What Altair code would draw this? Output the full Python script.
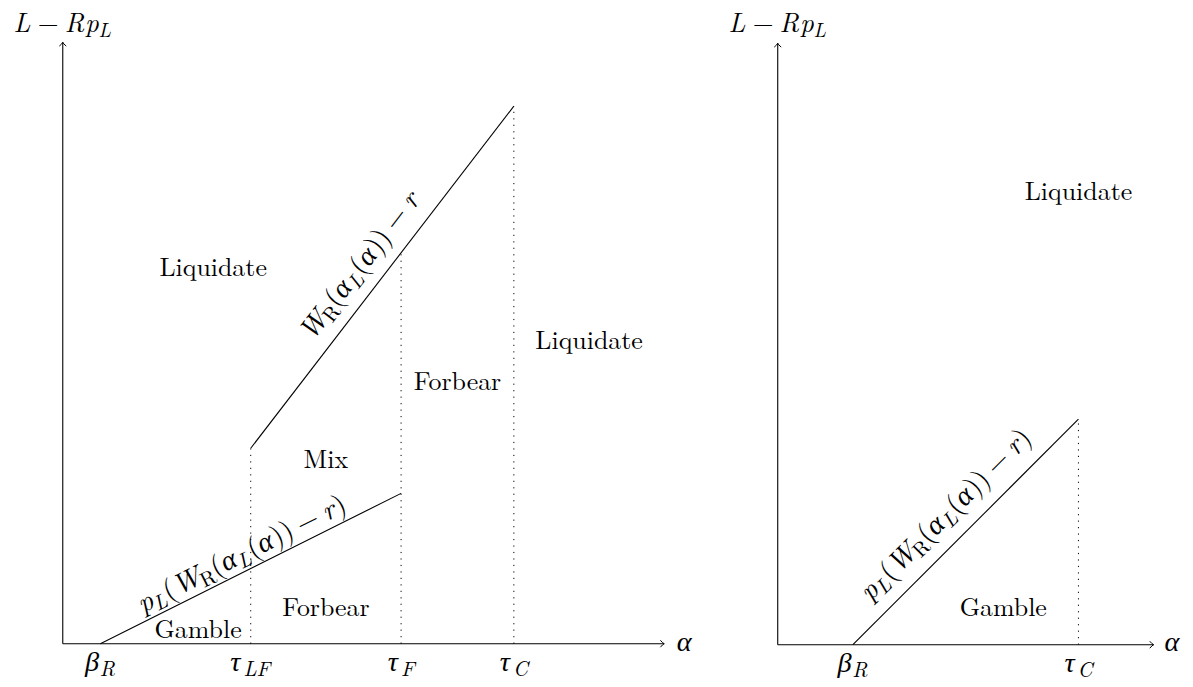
import math
import altair as alt
import pandas as pd

# ---------------- values (data units) ----------------
# left panel
L_TICK_POS = [1, 5, 9, 12]
L_TICK_MAIN = ["β", "τ", "τ", "τ"]
L_TICK_SUB = ["R", "LF", "F", "C"]
L_AXIS_END = [16.0, 16.0]
L_LOWER_X = [1, 9]
L_LOWER_Y = [0, 4.0]
L_UPPER_X = [5, 12]
L_UPPER_Y = [5.2, 14.3]
L_DOT_X = [5, 9, 12]
L_DOT_TOP = [5.2, 10.36, 14.3]
L_REGION_TEXT = ["Liquidate", "Liquidate", "Forbear", "Mix", "Forbear", "Gamble"]
L_REGION_X = [4.0, 14.0, 10.5, 7.0, 7.0, 3.6]
L_REGION_Y = [10.0, 8.05, 6.95, 4.9, 0.95, 0.37]
L_UPPER_LABEL_AT = [7.92, 10.04]
L_LOWER_LABEL_AT = [4.77, 2.36]

# right panel
R_TICK_POS = [2, 8]
R_TICK_MAIN = ["β", "τ"]
R_TICK_SUB = ["R", "C"]
R_AXIS_END = [10.0, 16.0]
R_LINE_X = [2, 8]
R_LINE_Y = [0, 6]
R_DOT_X = [8]
R_DOT_TOP = [6]
R_REGION_TEXT = ["Liquidate", "Gamble"]
R_REGION_X = [8.0, 6.0]
R_REGION_Y = [12.05, 0.98]
R_LABEL_AT = [4.48, 3.44]

# ---------------- styling / layout ----------------
U = 37.75            # px per data unit (same on both axes)
LM = "Latin Modern Roman"
GR = "Liberation Serif"
MS = 28.5            # math size
SS = 21.0            # subscript size
TS = 26.0            # region text size
SUB_DROP = 5.0
OP_GAP = 0.222

# glyph advance widths (em)
W_LMI = {"W": 0.944, "R": 0.759, "L": 0.681, "p": 0.503, "r": 0.451, "F": 0.643,
         "C": 0.715, "LF": 1.324}
W_LMR = {"(": 0.389, ")": 0.389, "−": 0.778, "R": 0.736}
W_GR = {"α": 0.55, "β": 0.52, "τ": 0.46}
FONTS = {"i": (LM, "italic"), "u": (LM, "normal"), "g": (GR, "italic")}
WIDTH = {"i": W_LMI, "u": W_LMR, "g": W_GR}

INNER = [("W", "i", 0), ("R", "u", 1), ("(", "u", 0), ("α", "g", 0), ("L", "i", 1),
         ("(", "u", 0), ("α", "g", 0), (")", "u", 0), (")", "u", 0),
         ("−", "u", 0, "op"), ("r", "i", 0)]
OUTER = [("p", "i", 0), ("L", "i", 1), ("(", "u", 0)] + INNER + [(")", "u", 0)]
YLAB = [("L", "i", 0), ("−", "u", 0, "op"), ("R", "i", 0), ("p", "i", 0), ("L", "i", 1)]


def compose(tokens, ax, ay, angle=0.0, vshift=0.0, k=1.0):
    th = math.radians(angle)
    c, s = math.cos(th), math.sin(th)
    pieces, cur = [], 0.0
    for tok in tokens:
        t, st, sub = tok[0], tok[1], tok[2]
        op = len(tok) > 3
        size = (SS if sub else MS) * k
        w = WIDTH[st][t] * size
        if op:
            cur += OP_GAP * MS * k
        pieces.append((t, st, size, cur, SUB_DROP * k if sub else 0.0))
        cur += w
        if op:
            cur += OP_GAP * MS * k
    total = cur
    rows = []
    for t, st, size, a0, drop in pieces:
        a = a0 - total / 2
        b = vshift + drop
        sx = a * c - b * s
        sy = a * s + b * c
        rows.append(dict(text=t, style=st, size=size, angle=angle,
                         x=ax + sx / U, y=ay - sy / U))
    return rows


def slope_angle(xs, ys):
    return 360 - math.degrees(math.atan2(ys[1] - ys[0], xs[1] - xs[0]))


def panel(width, height, dom_x, dom_y, seg_solid, seg_dot, axis_end,
          regions, math_rows):
    X = lambda f: alt.X(f, type="quantitative", axis=None,
                        scale=alt.Scale(domain=dom_x, nice=False, zero=False))
    Y = lambda f: alt.Y(f, type="quantitative", axis=None,
                        scale=alt.Scale(domain=dom_y, nice=False, zero=False))
    solid = alt.Chart(pd.DataFrame(seg_solid)).mark_rule(
        color="black", strokeWidth=1.1).encode(
        x=X("x"), y=Y("y"), x2=alt.X2("x2"), y2=alt.Y2("y2"))
    dot = alt.Chart(pd.DataFrame(seg_dot)).mark_rule(
        color="black", strokeWidth=1, strokeDash=[1.2, 5.3]).encode(
        x=X("x"), y=Y("y"), x2=alt.X2("x2"), y2=alt.Y2("y2"))
    arr_r = alt.Chart(pd.DataFrame({"x": [axis_end[0]], "y": [0]})).mark_point(
        shape="M -1.1 -1 Q -0.4 -0.15 0 0 Q -0.4 0.15 -1.1 1", filled=False,
        color="black", strokeWidth=1, size=49, opacity=1).encode(x=X("x"), y=Y("y"))
    arr_u = alt.Chart(pd.DataFrame({"x": [0], "y": [axis_end[1]]})).mark_point(
        shape="M -1 1.1 Q -0.15 0.4 0 0 Q 0.15 0.4 1 1.1", filled=False,
        color="black", strokeWidth=1, size=49, opacity=1).encode(x=X("x"), y=Y("y"))
    reg = alt.Chart(pd.DataFrame(regions)).mark_text(
        font=LM, fontSize=TS, align="center", baseline="middle").encode(
        x=X("x"), y=Y("y"), text="text:N")
    mdf = pd.DataFrame(math_rows)
    layers = [solid, dot, arr_r, arr_u, reg]
    for st in ["i", "u", "g"]:
        fam, fs = FONTS[st]
        sub = mdf[mdf["style"] == st]
        if len(sub):
            layers.append(alt.Chart(sub).mark_text(
                font=fam, fontStyle=fs, align="left", baseline="alphabetic").encode(
                x=X("x"), y=Y("y"), text="text:N",
                size=alt.Size("size:Q", scale=None),
                angle=alt.Angle("angle:Q", scale=None)))
    return alt.layer(*layers).properties(width=width, height=height)


TICK_BASE = -0.715
YK = 27.0 / MS   # y-axis label a touch smaller so it stays inside the page

# ---- left panel
LW, LH = 712, 672
l_dom_x = [(8 - 63) / U, (8 + LW - 63) / U]
l_dom_y = [(644 - 8 - LH) / U, (644 - 8) / U]
l_solid = [
    dict(x=0, y=0, x2=L_AXIS_END[0], y2=0),
    dict(x=0, y=0, x2=0, y2=L_AXIS_END[1]),
    dict(x=L_LOWER_X[0], y=L_LOWER_Y[0], x2=L_LOWER_X[1], y2=L_LOWER_Y[1]),
    dict(x=L_UPPER_X[0], y=L_UPPER_Y[0], x2=L_UPPER_X[1], y2=L_UPPER_Y[1]),
]
l_dot = [dict(x=xv, y=0, x2=xv, y2=tv) for xv, tv in zip(L_DOT_X, L_DOT_TOP)]
l_regions = [dict(text=t, x=xv, y=yv) for t, xv, yv in zip(L_REGION_TEXT, L_REGION_X, L_REGION_Y)]
l_math = []
for pos, m, sb in zip(L_TICK_POS, L_TICK_MAIN, L_TICK_SUB):
    l_math += compose([(m, "g", 0), (sb, "i", 1)], pos, TICK_BASE)
l_math += compose(YLAB, 0, 16.275, k=YK)
l_math += compose([("α", "g", 0)], L_AXIS_END[0] + 0.54, -0.19)
l_math += compose(INNER, L_UPPER_LABEL_AT[0], L_UPPER_LABEL_AT[1],
                  slope_angle(L_UPPER_X, L_UPPER_Y), 0.27 * MS)
l_math += compose(OUTER, L_LOWER_LABEL_AT[0], L_LOWER_LABEL_AT[1],
                  slope_angle(L_LOWER_X, L_LOWER_Y), 0.27 * MS)

left = panel(LW, LH, l_dom_x, l_dom_y, l_solid, l_dot, L_AXIS_END, l_regions, l_math)

# ---- right panel
RW, RH = 470, 672
r_dom_x = [(8 + LW - 781) / U, (8 + LW + RW - 781) / U]
r_dom_y = [(645 - 8 - RH) / U, (645 - 8) / U]
r_solid = [
    dict(x=0, y=0, x2=R_AXIS_END[0], y2=0),
    dict(x=0, y=0, x2=0, y2=R_AXIS_END[1]),
    dict(x=R_LINE_X[0], y=R_LINE_Y[0], x2=R_LINE_X[1], y2=R_LINE_Y[1]),
]
r_dot = [dict(x=xv, y=0, x2=xv, y2=tv) for xv, tv in zip(R_DOT_X, R_DOT_TOP)]
r_regions = [dict(text=t, x=xv, y=yv) for t, xv, yv in zip(R_REGION_TEXT, R_REGION_X, R_REGION_Y)]
r_math = []
for pos, m, sb in zip(R_TICK_POS, R_TICK_MAIN, R_TICK_SUB):
    r_math += compose([(m, "g", 0), (sb, "i", 1)], pos, TICK_BASE)
r_math += compose(YLAB, 0, 16.3, k=YK)
r_math += compose([("α", "g", 0)], R_AXIS_END[0] + 0.5, -0.17)
r_math += compose(OUTER, R_LABEL_AT[0], R_LABEL_AT[1],
                  slope_angle(R_LINE_X, R_LINE_Y), 0.27 * MS)

right = panel(RW, RH, r_dom_x, r_dom_y, r_solid, r_dot, R_AXIS_END, r_regions, r_math)

chart = alt.hconcat(left, right, spacing=0, bounds="flush", padding=0,
                    background="white").configure_view(stroke=None, strokeWidth=0)

chart.save("out.html", embed_options={"renderer": "svg", "actions": False})
